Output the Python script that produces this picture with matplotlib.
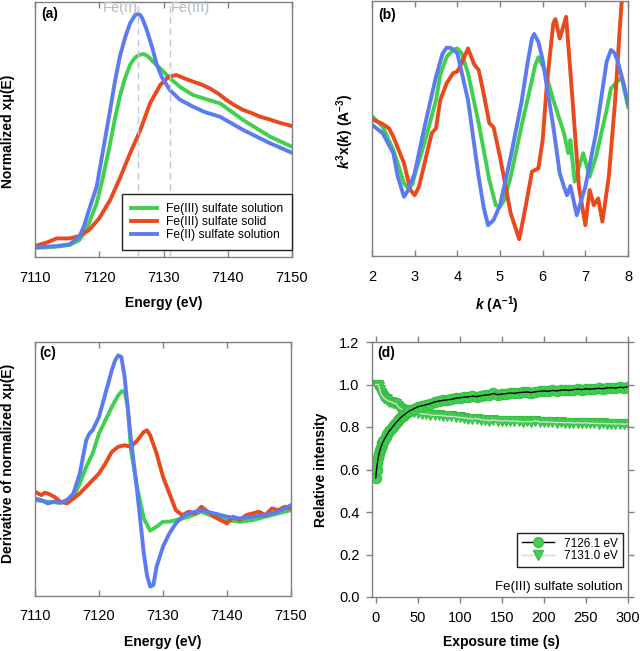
import matplotlib
matplotlib.use('Agg')
import matplotlib.pyplot as plt
from matplotlib.lines import Line2D

plt.rcParams['font.family'] = ['Liberation Sans', 'DejaVu Sans']
plt.rcParams['mathtext.fontset'] = 'custom'
plt.rcParams['mathtext.it'] = 'Liberation Sans:italic:bold'
plt.rcParams['mathtext.rm'] = 'Liberation Sans:bold'
plt.rcParams['mathtext.bf'] = 'Liberation Sans:bold'

GREEN = '#41cf4f'
RED = '#e8491d'
BLUE = '#5b7cf0'
SPINE = '#808080'

# ---------------- (a) normalized XANES ----------------
a_blue_E = [7110.0, 7113.4, 7115.4, 7116.9, 7117.6, 7118.4, 7119.6, 7120.6, 7121.7, 7122.4,
            7123.2, 7124.0, 7124.8, 7125.5, 7125.8, 7126.1, 7126.4, 7126.7, 7127.4, 7128.2,
            7128.9, 7129.7, 7130.5, 7131.0, 7132.5, 7134.6, 7136.5, 7138.8, 7142.4, 7146.6,
            7150.0]
a_blue = [0.005, 0.013, 0.025, 0.075, 0.142, 0.253, 0.409, 0.653, 0.92, 1.10,
          1.275, 1.40, 1.498, 1.547, 1.557, 1.56, 1.552, 1.531, 1.453, 1.342,
          1.231, 1.142, 1.087, 1.053, 0.99, 0.942, 0.905, 0.875, 0.787, 0.698,
          0.635]

a_green_E = [7110.0, 7113.4, 7115.4, 7116.9, 7117.6, 7118.4, 7119.6, 7120.6, 7121.7, 7122.4,
             7123.2, 7124.0, 7124.8, 7125.3, 7125.8, 7126.3, 7126.9, 7127.4, 7127.9, 7128.9,
             7130.0, 7131.0, 7132.7, 7134.6, 7136.8, 7138.8, 7142.4, 7146.6, 7150.0]
a_green = [0.0, 0.009, 0.02, 0.053, 0.098, 0.165, 0.298, 0.475, 0.698, 0.853,
           1.009, 1.131, 1.22, 1.255, 1.276, 1.288, 1.293, 1.283, 1.264, 1.22,
           1.176, 1.131, 1.07, 1.02, 0.99, 0.964, 0.853, 0.742, 0.675]

a_red_E = [7110.0, 7111.8, 7113.4, 7115.4, 7116.9, 7118.4, 7120.0, 7121.7, 7123.2, 7124.8,
           7126.4, 7127.9, 7129.5, 7130.8, 7132.0, 7133.2, 7134.6, 7135.8, 7137.2, 7138.5,
           7139.8, 7141.0, 7142.4, 7143.7, 7145.0, 7146.5, 7148.0, 7150.0]
a_red = [0.013, 0.036, 0.064, 0.064, 0.08, 0.12, 0.198, 0.32, 0.464, 0.631,
         0.787, 0.964, 1.087, 1.142, 1.153, 1.132, 1.109, 1.092, 1.064, 1.03,
         0.987, 0.953, 0.92, 0.9, 0.876, 0.857, 0.836, 0.813]

a_labels = ['Fe(III) sulfate solution', 'Fe(III) sulfate solid', 'Fe(II) sulfate solution']
a_marks = [7126.1, 7131.0]
a_mark_text = ['Fe(II)', 'Fe(III)']
energy_ticks = [7110, 7120, 7130, 7140, 7150]

# ---------------- (b) k^3 chi(k) ----------------
b_blue_k = [2.0, 2.25, 2.5, 2.6, 2.75, 2.85, 3.0, 3.25, 3.5, 3.65, 3.75, 3.85, 4.0, 4.25,
            4.5, 4.62, 4.72, 4.85, 5.0, 5.25, 5.5, 5.65, 5.75, 5.8, 5.9, 6.0, 6.25, 6.4,
            6.5, 6.57, 6.65, 6.8, 7.0, 7.25, 7.4, 7.5, 7.6, 7.68, 7.75, 7.9, 8.0]
b_blue = [0.08, -0.13, -0.63, -1.2, -1.72, -1.55, -1.13, 0.12, 1.28, 1.85, 2.01, 2.0,
          1.87, 0.70, -1.22, -2.0, -2.43, -2.3, -1.93, -0.72, 0.62, 1.65, 2.24, 2.35,
          2.15, 1.70, 0.03, -1.13, -1.47, -1.68, -1.45, -2.18, -1.47, -0.13, 0.95, 1.66,
          1.95, 1.88, 1.70, 1.1, 0.62]

b_green_k = [2.0, 2.25, 2.5, 2.75, 2.85, 2.95, 3.0, 3.25, 3.5, 3.6, 3.75, 3.9, 4.0, 4.1,
             4.25, 4.5, 4.75, 4.9, 5.0, 5.1, 5.25, 5.5, 5.75, 5.82, 5.9, 6.05, 6.25, 6.5,
             6.6, 6.65, 6.75, 6.95, 7.1, 7.25, 7.5, 7.6, 7.75, 7.85, 8.0]
b_green = [0.30, 0.03, -0.55, -1.38, -1.51, -1.4, -1.18, -0.30, 0.70, 1.33, 1.78, 1.95,
           1.99, 1.87, 1.37, 0.12, -1.30, -1.93, -1.97, -1.80, -1.22, 0.03, 1.20, 1.55,
           1.77, 1.45, 0.70, -0.13, -0.63, -0.30, -1.34, -0.63, -1.22, -0.72, 0.45, 0.99,
           1.16, 1.27, 0.53]

b_red_k = [2.0, 2.25, 2.4, 2.5, 2.75, 2.9, 3.0, 3.1, 3.25, 3.4, 3.5, 3.6, 3.75, 3.9, 4.0,
           4.1, 4.25, 4.4, 4.5, 4.6, 4.75, 4.85, 5.0, 5.25, 5.45, 5.6, 5.75, 5.9, 6.0,
           6.1, 6.25, 6.3, 6.4, 6.55, 6.7, 6.85, 7.0, 7.1, 7.2, 7.3, 7.4, 7.55, 7.7, 7.8,
           7.9]
b_red = [0.22, 0.10, -0.01, -0.22, -0.88, -1.55, -1.68, -1.47, -0.80, -0.13, -0.01, 0.70,
         1.12, 1.37, 1.41, 1.62, 1.99, 1.58, 1.45, 0.95, 0.12, 0.02, -0.72, -2.13, -2.78,
         -1.97, -1.09, -1.01, -0.30, 1.12, 2.62, 2.72, 2.24, 2.78, 0.70, -1.47, -2.43,
         -1.55, -1.93, -1.76, -2.34, -1.22, 0.70, 2.37, 3.87]
k_ticks = [2, 3, 4, 5, 6, 7, 8]

# ---------------- (c) derivative ----------------
c_blue_E = [7110, 7111, 7112, 7113, 7114, 7115, 7116, 7117, 7118, 7118.5, 7119, 7120, 7121,
            7122, 7122.5, 7123, 7123.5, 7124, 7125, 7126, 7127, 7127.5, 7128, 7128.5, 7129,
            7130, 7131, 7132, 7133, 7134, 7136, 7138, 7140, 7142, 7144, 7146, 7148, 7150]
c_blue = [0.15, 0.133, 0.10, 0.117, 0.107, 0.133, 0.20, 0.40, 0.733, 0.80, 0.833, 0.967,
          1.20, 1.433, 1.53, 1.583, 1.567, 1.367, 0.733, 0.20, -0.40, -0.62, -0.733, -0.717,
          -0.533, -0.333, -0.20, -0.10, -0.033, 0.0, 0.033, 0.0, -0.033, -0.05, -0.033,
          -0.017, 0.017, 0.083]

c_green_E = [7110, 7112, 7114, 7115, 7116, 7117, 7118, 7119, 7120, 7121, 7122, 7123, 7123.6,
             7124, 7124.5, 7125, 7126, 7127, 7128, 7129, 7130, 7131, 7132, 7133, 7134, 7136,
             7138, 7140, 7142, 7144, 7146, 7148, 7150]
c_green = [0.133, 0.117, 0.107, 0.133, 0.167, 0.30, 0.467, 0.60, 0.80, 0.933, 1.067, 1.183,
           1.225, 1.22, 1.067, 0.633, 0.25, -0.05, -0.173, -0.133, -0.083, -0.083, -0.067,
           -0.05, -0.033, 0.017, -0.033, -0.067, -0.083, -0.067, -0.033, 0.0, 0.033]

c_red_E = [7110, 7111, 7111.5, 7112, 7113, 7114, 7115, 7116, 7117, 7118, 7119, 7120, 7121,
           7122, 7123, 7124, 7125, 7126, 7127, 7127.5, 7128, 7129, 7130, 7131, 7132, 7133,
           7134, 7135, 7136, 7137, 7138, 7139, 7140, 7141, 7142, 7143, 7144, 7145, 7146,
           7147, 7148, 7149, 7150]
c_red = [0.217, 0.183, 0.207, 0.20, 0.167, 0.117, 0.10, 0.15, 0.20, 0.267, 0.333, 0.40,
         0.50, 0.617, 0.667, 0.683, 0.667, 0.733, 0.817, 0.833, 0.783, 0.60, 0.367, 0.20,
         0.033, -0.017, 0.017, 0.0, 0.067, 0.017, -0.033, -0.067, -0.10, -0.033, -0.067,
         -0.017, 0.0, 0.017, -0.017, 0.05, 0.033, 0.067, 0.05]

# ---------------- (d) time series ----------------
d_time = [0, 1, 2, 3, 4, 5, 6, 7, 8, 9, 10, 12, 14, 16, 18, 20, 22, 24, 26, 28, 30, 32, 34,
          36, 38, 40, 45, 50, 55, 60, 65, 70, 75, 80, 85, 90, 95, 100, 105, 110, 115, 120,
          125, 130, 135, 140, 145, 150, 155, 160, 165, 170, 175, 180, 185, 190, 195, 200,
          205, 210, 215, 220, 225, 230, 235, 240, 245, 250, 255, 260, 265, 270, 275, 280,
          285, 290, 295, 300]
d_7126 = [0.56, 0.60, 0.63, 0.655, 0.675, 0.69, 0.703, 0.714, 0.724, 0.732, 0.74, 0.755,
          0.768, 0.78, 0.79, 0.80, 0.81, 0.82, 0.828, 0.837, 0.845, 0.852, 0.858, 0.864,
          0.87, 0.875, 0.885, 0.895, 0.90, 0.905, 0.91, 0.918, 0.922, 0.925, 0.928, 0.93,
          0.935, 0.938, 0.94, 0.942, 0.945, 0.943, 0.947, 0.95, 0.952, 0.958, 0.952, 0.955,
          0.957, 0.96, 0.958, 0.962, 0.963, 0.965, 0.962, 0.966, 0.968, 0.97, 0.968, 0.972,
          0.97, 0.973, 0.975, 0.972, 0.976, 0.978, 0.976, 0.98, 0.978, 0.98, 0.982, 0.98,
          0.984, 0.985, 0.983, 0.987, 0.985, 0.99]
d_7131 = [1.0, 1.0, 1.0, 1.0, 0.99, 0.975, 0.96, 0.95, 0.945, 0.94, 0.935, 0.93, 0.925,
          0.92, 0.92, 0.915, 0.912, 0.91, 0.90, 0.89, 0.885, 0.882, 0.88, 0.878, 0.875,
          0.872, 0.87, 0.865, 0.862, 0.86, 0.857, 0.855, 0.855, 0.853, 0.85, 0.85, 0.848,
          0.845, 0.843, 0.84, 0.838, 0.84, 0.835, 0.832, 0.83, 0.833, 0.83, 0.828, 0.83,
          0.827, 0.828, 0.826, 0.825, 0.826, 0.824, 0.83, 0.823, 0.825, 0.822, 0.823, 0.82,
          0.822, 0.82, 0.821, 0.818, 0.82, 0.818, 0.82, 0.817, 0.818, 0.816, 0.817, 0.815,
          0.816, 0.814, 0.815, 0.813, 0.815]
d_labels = ['7126.1 eV', '7131.0 eV']
d_xticks = [0, 50, 100, 150, 200, 250, 300]
d_yticks = [0.0, 0.2, 0.4, 0.6, 0.8, 1.0, 1.2]

# ---------------- figure ----------------
W, H = 640, 651
fig = plt.figure(figsize=(W / 100, H / 100), dpi=100)


def axes_px(l, t, r, b):
    return fig.add_axes([l / W, 1 - b / H, (r - l) / W, (b - t) / H])


def style(ax, direction, pad, left=False):
    for s in ax.spines.values():
        s.set_color(SPINE)
        s.set_linewidth(1.0)
    ax.tick_params(axis='x', direction=direction, top=True, bottom=True, length=4,
                   width=1, color=SPINE, pad=pad, labelsize=10.5)
    if left:
        ax.tick_params(axis='y', direction=direction, left=True, right=True, length=4,
                       width=1, color=SPINE, labelsize=10.5, pad=5)
    else:
        ax.tick_params(axis='y', left=False, right=False, labelleft=False)


LW = 2.8

# (a)
axA = axes_px(35, 2, 292, 257)
axA.plot(a_green_E, a_green, color=GREEN, lw=LW, label=a_labels[0])
axA.plot(a_red_E, a_red, color=RED, lw=LW, label=a_labels[1])
axA.plot(a_blue_E, a_blue, color=BLUE, lw=LW, label=a_labels[2])
for xm in a_marks:
    axA.axvline(xm, color='#c2c9cf', lw=1.0, ls=(0, (5, 3)), zorder=4)
axA.text(a_marks[0] - 0.1, 0.975, a_mark_text[0], transform=axA.get_xaxis_transform(),
         ha='right', va='center', color='#b0bac2', fontsize=10.5)
axA.text(a_marks[1] + 0.2, 0.975, a_mark_text[1], transform=axA.get_xaxis_transform(),
         ha='left', va='center', color='#b0bac2', fontsize=10.5)
axA.set_xlim(7110, 7150)
axA.set_ylim(-0.06, 1.64)
axA.set_xticks(energy_ticks)
style(axA, 'in', 10)
legA = axA.legend(loc='lower right', bbox_to_anchor=(1.0, 0.027), borderaxespad=0,
                  fontsize=8.7, handlelength=2.2, handletextpad=0.7, labelspacing=0.08,
                  borderpad=0.75, fancybox=False, framealpha=1)
legA.set_zorder(6)
legA.get_frame().set_edgecolor('#222222')
legA.get_frame().set_linewidth(1.0)

# (b)
axB = axes_px(372, 1, 628, 256)
axB.plot(b_green_k, b_green, color=GREEN, lw=LW)
axB.plot(b_red_k, b_red, color=RED, lw=LW)
axB.plot(b_blue_k, b_blue, color=BLUE, lw=LW)
axB.set_xlim(2, 8)
axB.set_ylim(-3.2, 3.175)
axB.set_xticks(k_ticks)
style(axB, 'in', 10)

# (c)
axC = axes_px(35, 342, 291, 596)
axC.plot(c_green_E, c_green, color=GREEN, lw=LW)
axC.plot(c_red_E, c_red, color=RED, lw=LW)
axC.plot(c_blue_E, c_blue, color=BLUE, lw=LW)
axC.set_xlim(7110, 7150)
axC.set_ylim(-0.827, 1.717)
axC.set_xticks(energy_ticks)
style(axC, 'in', 9)

# (d)
axD = axes_px(372, 342, 628, 597)
MG = '#45d052'
MGE = '#34bf45'
axD.plot(d_time, d_7131, ls='none', marker='v', ms=7.5, mfc=MG, mec=MGE, mew=0.8)
axD.plot(d_time, d_7131, color='#d9d9d9', lw=1.0)
axD.plot(d_time, d_7126, ls='none', marker='o', ms=7.5, mfc=MG, mec=MGE, mew=0.8)
axD.plot(d_time, d_7126, color='black', lw=1.0)
axD.set_xlim(-4.4, 300)
axD.set_ylim(0, 1.2)
axD.set_xticks(d_xticks)
axD.set_yticks(d_yticks)
axD.set_yticklabels([f'{v:.1f}' for v in d_yticks])
style(axD, 'out', 6, left=True)
proxies = [Line2D([], [], color='black', lw=1.0, marker='o', ms=7, mfc=MG, mec=MGE),
           Line2D([], [], color='#d9d9d9', lw=1.0, marker='v', ms=7, mfc=MG, mec=MGE)]
legD = axD.legend(proxies, d_labels, loc='lower right', bbox_to_anchor=(0.98, 0.118),
                  borderaxespad=0, fontsize=8.5, handlelength=2.7, handletextpad=0.9,
                  labelspacing=0.05, borderpad=0.4, fancybox=False, framealpha=1,
                  numpoints=1)
legD.get_frame().set_edgecolor('#222222')
legD.get_frame().set_linewidth(1.0)
axD.text(0.98, 0.039, 'Fe(III) sulfate solution', transform=axD.transAxes,
         ha='right', va='center', fontsize=9.5)

# labels
def ftext(x, y, s, **kw):
    fig.text(x / W, 1 - y / H, s, **kw)

LBL = dict(fontsize=10, fontweight='bold', ha='center', va='center')
ftext(163.5, 303, 'Energy (eV)', **LBL)
ftext(8, 131, 'Normalized xμ(E)', rotation=90, **LBL)
ftext(497, 305, r'$k$ (A$^{-1}$)', **LBL)
ftext(345, 131, r'$k^{3}$x($k$) (A$^{-3}$)', rotation=90, **LBL)
ftext(163, 642, 'Energy (eV)', **LBL)
ftext(8, 463, 'Derivative of normalized xμ(E)', rotation=90, **LBL)
ftext(501, 642, 'Exposure time (s)', **LBL)
ftext(321, 470, 'Relative intensity', rotation=90, **LBL)

PL = dict(fontsize=10, fontweight='bold', ha='left', va='center')
ftext(41, 14, '(a)', **PL)
ftext(378, 15, '(b)', **PL)
ftext(39, 353, '(c)', **PL)
ftext(377, 353, '(d)', **PL)

fig.savefig('out.png', dpi=100)
